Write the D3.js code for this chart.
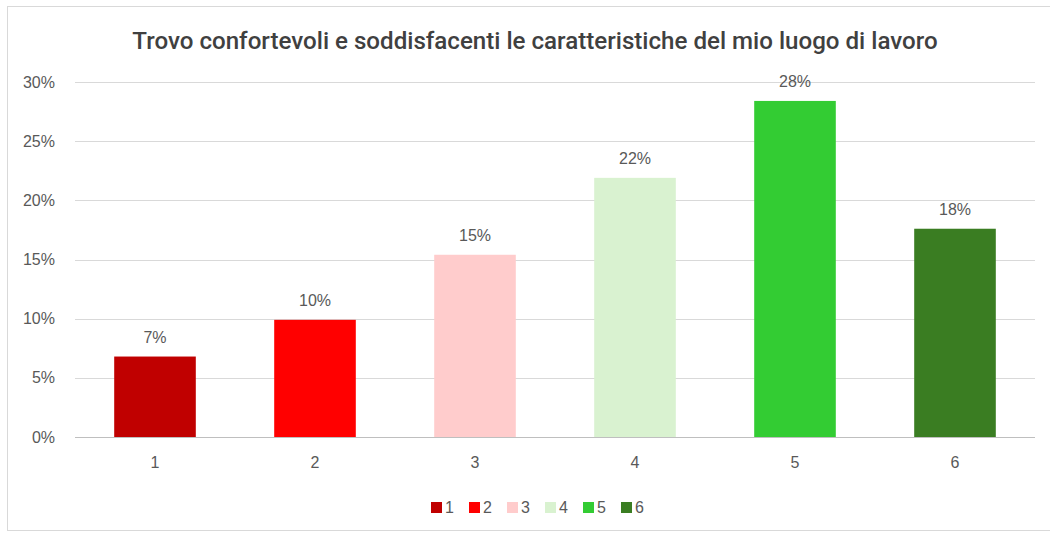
<!DOCTYPE html>
<html><head><meta charset="utf-8">
<script src="https://cdn.jsdelivr.net/npm/d3@7"></script>
<style>body{margin:0;background:#fff;}svg{display:block;}</style>
</head><body>
<svg id="chart" width="1050" height="533"></svg>
<script>
const categories = ["1","2","3","4","5","6"];
const values = [6.8, 9.9, 15.4, 21.9, 28.4, 17.6];
const labels = ["7%","10%","15%","22%","28%","18%"];
const colors = ["#C00000","#FF0000","#FFCCCC","#D9F2D0","#33CC33","#3A7D22"];
const yTicks = [0,5,10,15,20,25,30];
const title = "Trovo confortevoli e soddisfacenti le caratteristiche del mio luogo di lavoro";

const svg = d3.select("#chart");
const font = "'Liberation Sans', Arial, sans-serif";
const tfont = "Roboto, 'Liberation Sans', sans-serif";
svg.append("rect").attr("x",7.5).attr("y",6.5).attr("width",1100).attr("height",524)
  .attr("fill","#fff").attr("stroke","#d9d9d9");

const x = d3.scaleBand().domain(categories).range([75,1035]).paddingInner(0.49).paddingOuter(0.245);
const y = d3.scaleLinear().domain([0,30]).range([437,82]);

const t = svg.append("text").attr("x",535).attr("y",49).attr("text-anchor","middle")
  .attr("font-family",tfont).attr("font-weight",500).attr("font-size",20).attr("fill","#404040").text(title);
const w = t.node().getComputedTextLength();
t.attr("font-size", 20*806/w);

svg.append("g").selectAll("line").data(yTicks).join("line")
  .attr("x1",75).attr("x2",1035).attr("y1",d=>Math.round(y(d))+0.5).attr("y2",d=>Math.round(y(d))+0.5)
  .attr("stroke",d=>d===0?"#bfbfbf":"#d9d9d9").attr("stroke-width",1);

const yAxis = d3.axisLeft(y).tickValues(yTicks).tickFormat(d=>d+"%").tickSize(0).tickPadding(0);
const ya = svg.append("g").attr("transform","translate(55,0)").call(yAxis);
ya.select(".domain").remove();
ya.selectAll("text").attr("font-family",font).attr("font-size",16).attr("fill","#595959");

const xAxis = d3.axisBottom(x).tickSize(0).tickPadding(0);
const xa = svg.append("g").attr("transform","translate(0,457)").call(xAxis);
xa.select(".domain").remove();
xa.selectAll("text").attr("font-family",font).attr("font-size",16).attr("fill","#595959").attr("dy","0.71em");

svg.append("g").selectAll("rect").data(values).join("rect")
  .attr("x",(d,i)=>x(categories[i])).attr("width",x.bandwidth())
  .attr("y",d=>y(d)).attr("height",d=>y(0)-y(d)).attr("fill",(d,i)=>colors[i]);

svg.append("g").selectAll("text").data(values).join("text")
  .attr("x",(d,i)=>x(categories[i])+x.bandwidth()/2).attr("y",d=>y(d)-14)
  .attr("text-anchor","middle").attr("font-family",font).attr("font-size",16).attr("fill","#595959")
  .text((d,i)=>labels[i]);

const lg = svg.append("g");
const itemW = 38, startX = 431;
categories.forEach((c,i)=>{
  const gx = startX + i*itemW;
  lg.append("rect").attr("x",gx).attr("y",502).attr("width",11).attr("height",11).attr("fill",colors[i]);
  lg.append("text").attr("x",gx+14).attr("y",513).attr("font-family",font).attr("font-size",16).attr("fill","#595959").text(c);
});
</script>
</body></html>
